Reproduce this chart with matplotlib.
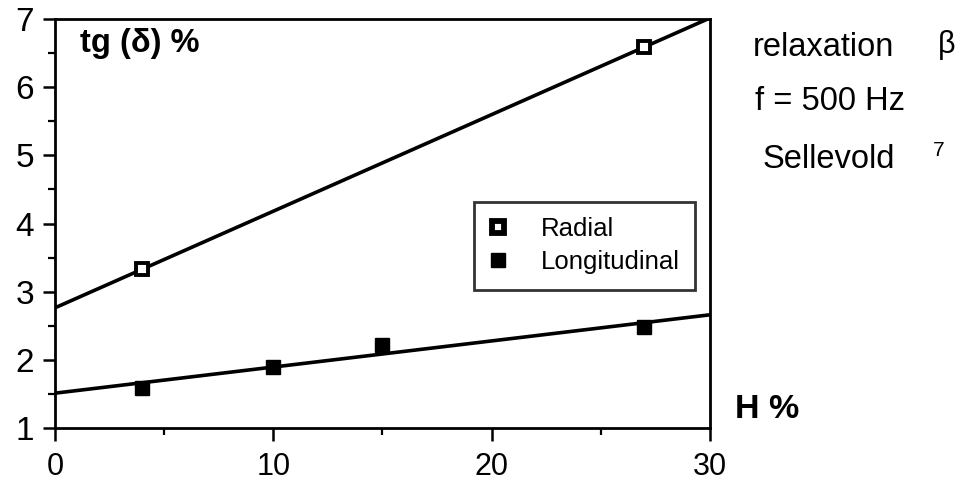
import numpy as np
import matplotlib
matplotlib.use("Agg")
import matplotlib.pyplot as plt
from matplotlib.ticker import MultipleLocator

plt.rcParams['font.family'] = ['Liberation Sans', 'DejaVu Sans']

# Data
radial_x = [4, 27]
radial_y = [3.33, 6.59]
long_x = [4, 10, 15, 27]
long_y = [1.59, 1.90, 2.22, 2.48]
x_ticks = [0, 10, 20, 30]
x_tick_labels = ["0", "10", "20", "30"]
y_ticks = [1, 2, 3, 4, 5, 6, 7]
y_tick_labels = ["1", "2", "3", "4", "5", "6", "7"]
fit_x = np.array([0, 30])

fig = plt.figure(figsize=(9.62, 4.84), dpi=100)
ax = fig.add_axes([55/962, 1-428/484, (710-55)/962, (428-19)/484])

# Linear fits
pr = np.polyfit(radial_x, radial_y, 1)
pl = np.polyfit(long_x, long_y, 1)
ax.plot(fit_x, np.polyval(pr, fit_x), color='black', lw=2.6, solid_capstyle='butt', zorder=2)
ax.plot(fit_x, np.polyval(pl, fit_x), color='black', lw=2.6, solid_capstyle='butt', zorder=2)

ax.plot(radial_x, radial_y, linestyle='none', marker='s', markersize=9,
        markerfacecolor='white', markeredgecolor='black', markeredgewidth=2.8,
        label='Radial', zorder=3)
ax.plot(long_x, long_y, linestyle='none', marker='s', markersize=9.5,
        markerfacecolor='black', markeredgecolor='black', label='Longitudinal', zorder=3)

ax.set_xlim(0, 30)
ax.set_ylim(1, 7)
ax.set_xticks(x_ticks)
ax.set_xticklabels(x_tick_labels, family=['Liberation Sans Narrow', 'Liberation Sans'], fontsize=22)
ax.set_yticks(y_ticks)
ax.set_yticklabels(y_tick_labels, fontsize=24)
ax.xaxis.set_minor_locator(MultipleLocator(5))
ax.yaxis.set_minor_locator(MultipleLocator(0.5))
ax.tick_params(which='major', direction='out', length=9, width=1.8)
ax.tick_params(axis='x', which='major', pad=8)
ax.tick_params(axis='y', which='major', pad=6)
ax.tick_params(which='minor', direction='out', length=5, width=1.6)
for s in ax.spines.values():
    s.set_linewidth(2.0)

ax.text(0.038, 0.94, "tg (δ) %", transform=ax.transAxes, fontsize=23.5,
        fontweight='bold', va='center', ha='left')
fig.text(735/962, 1-410/484, "H %", fontsize=24.5, fontweight='bold', va='center', ha='left')

fig.text(753/962, 1-47/484, "relaxation", fontsize=23.5, va='center', ha='left')
fig.text(938/962, 1-45/484, "β", fontsize=22, va='center', ha='left')
fig.text(755/962, 1-102/484, "f = 500 Hz", fontsize=23.5, va='center', ha='left')
fig.text(763/962, 1-160/484, "Sellevold", fontsize=23.5, va='center', ha='left')
fig.text(933/962, 1-150/484, "7", fontsize=15, va='center', ha='left')

leg = ax.legend(loc='upper left', bbox_to_anchor=((474-55)/655, (428-202)/409),
                borderaxespad=0, frameon=True, fancybox=False, fontsize=18.5,
                handlelength=0.7, handletextpad=1.3, borderpad=0.6,
                labelspacing=0.35, markerscale=1.0)
leg.get_frame().set_edgecolor('black')
leg.get_frame().set_linewidth(2.0)
leg.legend_handles[0].set_markeredgewidth(4.2)

fig.savefig("out.png", dpi=100)
